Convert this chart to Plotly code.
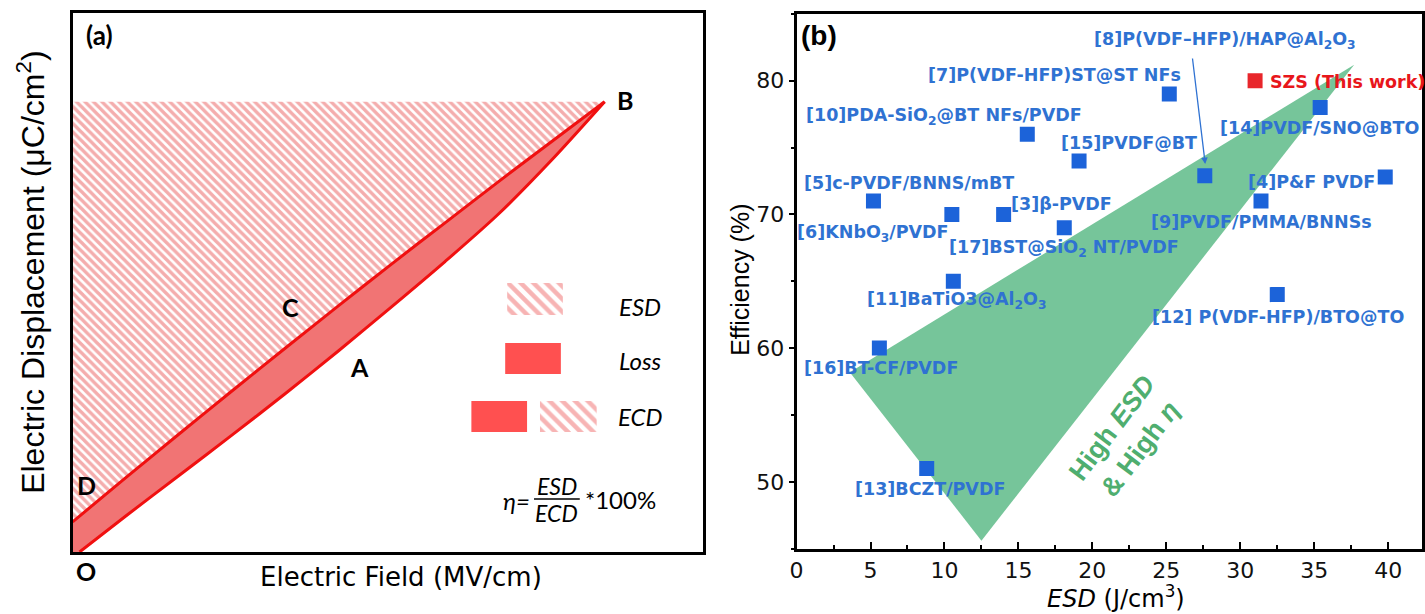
import plotly.graph_objects as go

W, H = 1425, 614

# ---------------- Panel (a): schematic D–E loop (normalised units) ----------------
E_charge = [0.013, 0.1, 0.2, 0.3, 0.4, 0.5, 0.6, 0.7, 0.8, 0.9, 1.0]
D_charge = [0.0, 0.08, 0.17, 0.26, 0.352, 0.447, 0.545, 0.645, 0.75, 0.87, 1.0]
E_discharge = [0.0, 0.1, 0.2, 0.3, 0.4, 0.5, 0.6, 0.7, 0.8, 0.9, 1.0]
D_discharge = [0.067, 0.165, 0.262, 0.358, 0.453, 0.547, 0.64, 0.731, 0.822, 0.911, 1.0]
D_max = 1.0
point_names = ["B", "C", "A", "D", "O"]

# ---------------- Panel (b): ESD vs efficiency ----------------
refs = ["[7]P(VDF-HFP)ST@ST NFs", "[14]PVDF/SNO@BTO", "[10]PDA-SiO<sub>2</sub>@BT NFs/PVDF",
        "[15]PVDF@BT", "[8]P(VDF–HFP)/HAP@Al<sub>2</sub>O<sub>3</sub>", "[4]P&amp;F PVDF",
        "[5]c-PVDF/BNNS/mBT", "[9]PVDF/PMMA/BNNSs", "[6]KNbO<sub>3</sub>/PVDF", "[3]β-PVDF",
        "[17]BST@SiO<sub>2</sub> NT/PVDF", "[11]BaTiO3@Al<sub>2</sub>O<sub>3</sub>",
        "[12] P(VDF-HFP)/BTO@TO", "[16]BT-CF/PVDF", "[13]BCZT/PVDF"]
esd = [25.2, 35.4, 15.6, 19.1, 27.6, 39.8, 5.2, 31.4, 10.5, 14.0, 18.1, 10.6, 32.5, 5.6, 8.8]
eff = [79.0, 78.0, 76.0, 74.0, 72.9, 72.8, 71.0, 71.0, 70.0, 70.0, 69.0, 65.0, 64.0, 60.0, 51.0]
szs_name = "SZS (This work)"
szs_esd = [31.0]
szs_eff = [80.0]
region_esd = [3.6, 37.7, 12.5]
region_eff = [58.2, 81.2, 45.6]

# ---------------- geometry helpers (layout only) ----------------
AX0, AX1, AY0, AY1 = 66, 700, 552, 13          # panel a frame in px
A_PX_E, A_PX_D = 535.0, 450.3                  # px per unit E / D
BX0, BX1 = 794, 1423
B_PX_X, B_PX_Y = 14.875, 13.37


def pa(px, py):
    return (px - AX0) / A_PX_E, (AY0 - py) / A_PX_D


def pb(px, py):
    return (px - BX0) / B_PX_X, 80 - (py - 80.7) / B_PX_Y


def paper(px, py):
    return px / W, 1 - py / H


fig = go.Figure()

HATCH = "#ea5c5c"
LOSS = "#f17474"
RED = "#f01010"
SOLID = "#ff5050"

# ESD hatched region (above discharge curve)
fig.add_trace(go.Scatter(
    x=E_discharge + [E_discharge[-1], E_discharge[0]],
    y=D_discharge + [D_max, D_max],
    fill="toself", mode="lines", line=dict(width=0), fillcolor="white",
    fillpattern=dict(shape="\\", fgcolor=HATCH, bgcolor="white", size=6, solidity=0.58),
    hoverinfo="skip", xaxis="x", yaxis="y", showlegend=False))

# Loss band (between discharge and charge curves)
fig.add_trace(go.Scatter(
    x=[0] + E_discharge + E_charge[::-1] + [0],
    y=[0] + D_discharge + D_charge[::-1] + [0],
    fill="toself", mode="lines", line=dict(width=0), fillcolor=LOSS,
    hoverinfo="skip", xaxis="x", yaxis="y", showlegend=False))

for ex, dy in ((E_charge, D_charge), (E_discharge, D_discharge)):
    fig.add_trace(go.Scatter(x=ex, y=dy, mode="lines",
                             line=dict(color=RED, width=3, shape="spline", smoothing=0.8),
                             hoverinfo="skip", xaxis="x", yaxis="y", showlegend=False))


# legend boxes in panel a
def box_trace(x0, y0, x1, y1, hatch, size=9):
    (ax0, ay0), (ax1, ay1) = pa(x0, y0), pa(x1, y1)
    kw = dict(x=[ax0, ax1, ax1, ax0, ax0], y=[ay0, ay0, ay1, ay1, ay0], fill="toself",
              mode="lines", line=dict(width=0), hoverinfo="skip", xaxis="x", yaxis="y",
              showlegend=False)
    if hatch:
        kw["fillcolor"] = "white"
        kw["fillpattern"] = dict(shape="\\", fgcolor="#ef6a6a", bgcolor="white", size=size,
                                 solidity=0.5)
    else:
        kw["fillcolor"] = SOLID
    return go.Scatter(**kw)


fig.add_trace(box_trace(503, 283, 559, 315, True))
fig.add_trace(box_trace(501, 343, 557, 374, False))
fig.add_trace(box_trace(467, 401, 523, 432, False))
fig.add_trace(box_trace(536, 401, 593, 432, True))

# ---------------- panel b traces ----------------
fig.add_trace(go.Scatter(
    x=region_esd + [region_esd[0]], y=region_eff + [region_eff[0]], fill="toself",
    mode="lines", line=dict(width=0), fillcolor="#76c59a", hoverinfo="skip",
    xaxis="x2", yaxis="y2", showlegend=False))

fig.add_trace(go.Scatter(
    x=esd, y=eff, mode="markers", marker=dict(symbol="square", size=15, color="#1c63d9"),
    xaxis="x2", yaxis="y2", showlegend=False, text=refs, hoverinfo="text+x+y"))
fig.add_trace(go.Scatter(
    x=szs_esd, y=szs_eff, mode="markers", marker=dict(symbol="square", size=15, color="#e8262b"),
    xaxis="x2", yaxis="y2", showlegend=False))

annotations = []

# panel a texts
LATO = "Lato"


def ann_paper(text, px, py, size, family, bold=False, italic=False, color="black",
              xanchor="center", angle=0):
    x, y = paper(px, py)
    t = f"<i>{text}</i>" if italic else text
    annotations.append(dict(text=t, x=x, y=y, xref="paper", yref="paper", showarrow=False,
                            xanchor=xanchor, yanchor="middle", textangle=angle,
                            font=dict(size=size, family=family, color=color,
                                      weight="bold" if bold else "normal")))


ann_paper("(a)", 93, 35, 26, LATO, bold=True)
point_px = [(621, 100), (285, 307), (354, 367), (80, 485), (79, 571)]
for name, (px, py) in zip(point_names, point_px):
    ann_paper(name, px, py, 25, LATO, bold=True)

ann_paper("ESD", 613, 306, 24, LATO, italic=True, xanchor="left")
ann_paper("Loss", 613, 360, 24, LATO, italic=True, xanchor="left")
ann_paper("ECD", 612, 416, 24, LATO, italic=True, xanchor="left")
ann_paper("η=", 528, 500, 24, LATO, italic=True, xanchor="right")
ann_paper("ESD", 553, 486, 23, LATO, italic=True)
ann_paper("ECD", 553, 513, 23, LATO, italic=True)
ann_paper("*100%", 579, 499, 24, LATO, xanchor="left")

ann_paper("Electric Field (MV/cm)", 396, 577, 26, "DejaVu Sans")
ann_paper("Electric Displacement (μC/cm<sup>2</sup>)", 24, 272, 32, "Liberation Sans", angle=-90)

# fraction bar
fx0, fy = paper(530, 499)
fx1, _ = paper(576, 499)

# panel b texts
BLUE_TXT = "#2f72d2"
label_px = [(1053, 75), (1320, 128), (942, 116), (1128, 143), (1225, 40), (1312, 182),
            (907, 183), (1262, 222), (871, 233), (1060, 204), (1063, 248), (955, 300),
            (1278, 317), (879, 368), (928, 489)]
for name, (px, py) in zip(refs, label_px):
    lx, ly = pb(px, py)
    annotations.append(dict(text=name, x=lx, y=ly, xref="x2", yref="y2", showarrow=False,
                            xanchor="center", yanchor="middle",
                            font=dict(size=17.5, family="DejaVu Sans", color=BLUE_TXT,
                                      weight="bold")))
sx, sy = pb(1268, 82)
annotations.append(dict(text=szs_name, x=sx, y=sy, xref="x2", yref="y2", showarrow=False,
                        xanchor="left", yanchor="middle",
                        font=dict(size=17.5, family="DejaVu Sans", color="#e8161b",
                                  weight="bold")))

# arrow to [8]
hx, hy = pb(1205, 164)
tx, ty = pb(1192, 57)
annotations.append(dict(text="", x=hx, y=hy, ax=tx, ay=ty, xref="x2", yref="y2",
                        axref="x2", ayref="y2", showarrow=True, arrowhead=2, arrowsize=1,
                        arrowwidth=1.3, arrowcolor=BLUE_TXT))

gx, gy = pb(1125, 438)
annotations.append(dict(text="High <i>ESD</i><br>&amp; High <i>η</i>", x=gx, y=gy,
                        xref="x2", yref="y2", showarrow=False, textangle=-53,
                        xanchor="center", yanchor="middle",
                        font=dict(size=27, family="Liberation Sans", color="#4fae6f",
                                  weight="bold")))

ann_paper("(b)", 817, 35, 28, "Liberation Sans", bold=True)
ann_paper("<i>ESD</i> (J/cm<sup>3</sup>)", 1115, 597, 24, "DejaVu Sans")
ann_paper("Efficiency (%)", 737, 280, 25, "Liberation Sans", angle=-90)

frame = dict(showline=True, mirror=True, linewidth=3, linecolor="black", showgrid=False,
             zeroline=False)

fig.update_layout(
    width=W, height=H, margin=dict(l=0, r=0, t=0, b=0), paper_bgcolor="white",
    plot_bgcolor="white", showlegend=False, annotations=annotations,
    shapes=[dict(type="line", xref="paper", yref="paper", x0=fx0, x1=fx1, y0=fy, y1=fy,
                 line=dict(color="black", width=1.5))],
    xaxis=dict(domain=[AX0 / W, AX1 / W], range=[0, (AX1 - AX0) / A_PX_E],
               showticklabels=False, ticks="", **frame),
    yaxis=dict(domain=[(H - AY0) / H, (H - AY1) / H], range=[0, (AY0 - AY1) / A_PX_D],
               showticklabels=False, ticks="", **frame),
    xaxis2=dict(domain=[BX0 / W, BX1 / W], range=[0, (BX1 - BX0) / B_PX_X], anchor="y2",
                tickmode="array", tickvals=[0, 5, 10, 15, 20, 25, 30, 35, 40],
                ticks="inside", ticklen=7, tickwidth=2, tickcolor="black",
                minor=dict(ticks="inside", ticklen=4, tickwidth=2, dtick=2.5, tick0=0,
                           tickcolor="black"),
                tickfont=dict(size=22, family="DejaVu Sans", color="#111"), **frame),
    yaxis2=dict(domain=[(H - 548.65) / H, (H - 13.85) / H], range=[45, 85], anchor="x2",
                tickmode="array", tickvals=[50, 60, 70, 80],
                ticks="outside", ticklen=5, tickwidth=2, tickcolor="black",
                minor=dict(ticks="outside", ticklen=3, tickwidth=2, dtick=5, tick0=45,
                           tickcolor="black"),
                tickfont=dict(size=22, family="DejaVu Sans", color="#111"), **frame),
)

fig.write_html("out.html")
